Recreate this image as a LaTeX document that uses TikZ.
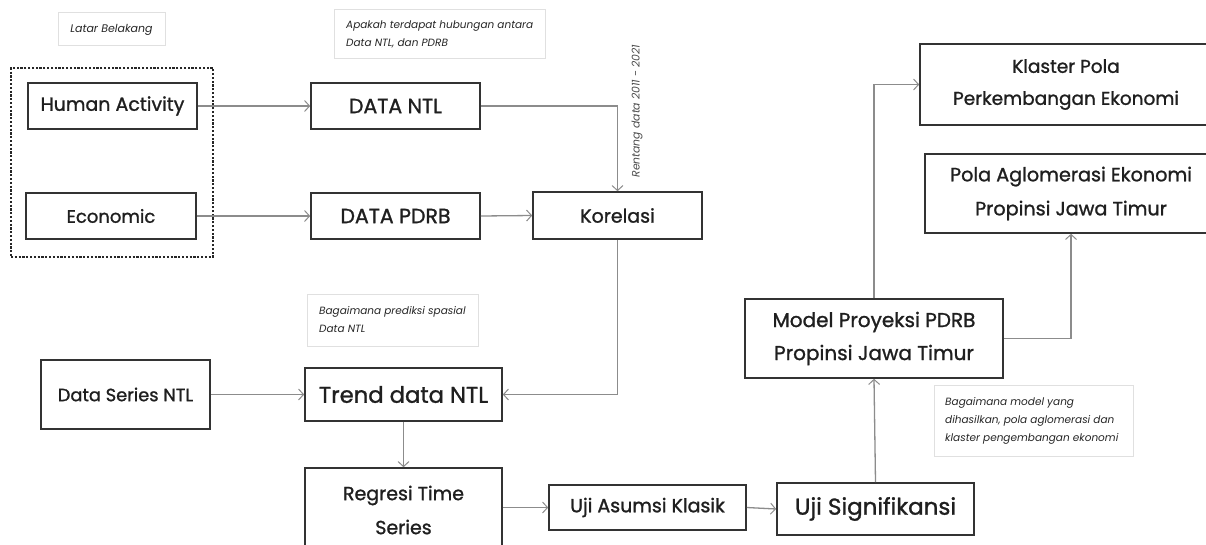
\documentclass[tikz,border=0pt]{standalone}
\usepackage{fontspec}
\setmainfont{Poppins}
\newfontfamily\boxfont{Poppins}[FakeBold=1.2]
\usetikzlibrary{arrows.meta}
\tikzset{
  box/.style={draw=black!80, line width=1.6pt, inner sep=0pt, align=center, text=black!88},
  note/.style={draw=black!12, line width=0.6pt, inner sep=0pt},
  notetext/.style={inner sep=0pt, align=left, font=\itshape\fontsize{10.5}{18}\selectfont, text=black!85},
  arr/.style={draw=black!45, line width=1.3pt, -{Straight Barb[length=5pt,width=11pt,line width=1pt]}},
  txt/.style={inner sep=0pt, align=center, text=black!88},
}
\newcommand{\fs}[2]{\boxfont\fontsize{#1}{#2}\selectfont}
\begin{document}
\begin{tikzpicture}[x=1pt,y=-1pt]
\useasboundingbox (0,0) rectangle (1206,544);
\clip (0,0) rectangle (1206,544);
\fill[white] (0,0) rectangle (1206,544);
% notes
\node[note, minimum width=107pt, minimum height=33pt] (lb) at (111.5,28.5) {};
\node[notetext, font=\itshape\fontsize{11}{18}\selectfont] (lbt) at (111.5,29.5) {Latar Belakang};
\node[note, minimum width=211pt, minimum height=49pt] (q1) at (439.5,33.5) {};
\node[notetext, anchor=west] (q1t) at (346,34) {Apakah terdapat hubungan antara\\Data NTL, dan PDRB};
\node[note, minimum width=171pt, minimum height=52pt] (q2) at (392.5,320) {};
\node[notetext, anchor=west] (q2t) at (319,320) {Bagaimana prediksi spasial\\Data NTL};
\node[note, minimum width=199pt, minimum height=71pt] (q3) at (1033.5,420.5) {};
\node[notetext, anchor=west] (q3t) at (945,420.5) {Bagaimana model yang\\dihasilkan, pola aglomerasi dan\\klaster pengembangan ekonomi};
\node[notetext, rotate=90, font=\itshape\fontsize{10.8}{12}\selectfont, text=black!70] (rt) at (637,111) {Rentang data 2011 - 2021};
% dashed group
\node[draw=black!85, line width=1.3pt, dash pattern=on 2.2pt off 1.6pt, minimum width=202pt, minimum height=189pt, inner sep=0pt] (grp) at (112,162.5) {};
% boxes
\node[box, minimum width=169pt, minimum height=46pt, font=\fs{19}{30}] (ha) at (112.5,106) {Human Activity};
\node[box, minimum width=170pt, minimum height=46pt, font=\fs{18}{30}] (eco) at (111,216) {Economic};
\node[box, minimum width=169pt, minimum height=46pt, font=\fs{20.5}{30}] (ntl) at (395.5,106) {DATA NTL};
\node[box, minimum width=169pt, minimum height=46pt, font=\fs{20.5}{30}] (pdrb) at (395.5,216) {DATA PDRB};
\node[box, minimum width=169pt, minimum height=47pt, font=\fs{19}{30}] (kor) at (617.5,215.5) {Korelasi};
\node[box, minimum width=169pt, minimum height=69pt, font=\fs{17.8}{30}] (dsn) at (125.5,394.5) {Data Series NTL};
\node[box, minimum width=197pt, minimum height=53pt, font=\fs{22.7}{30}] (trend) at (403.5,394.5) {Trend data NTL};
\node[box, minimum width=197pt, minimum height=92pt] (reg) at (403.5,514) {};
\node[txt, font=\fs{19}{34}] (regt) at (403.5,510) {Regresi Time\\Series};
\node[box, minimum width=197pt, minimum height=45pt, font=\fs{19}{30}] (uak) at (647.5,507.5) {Uji Asumsi Klasik};
\node[box, minimum width=197pt, minimum height=52pt, font=\fs{23}{30}] (usig) at (875.5,509) {Uji Signifikansi};
\node[box, minimum width=258pt, minimum height=79pt, font=\fs{20}{33}] (model) at (874,338.5) {Model Proyeksi PDRB\\Propinsi Jawa Timur};
\node[box, minimum width=292pt, minimum height=81pt, font=\fs{18.5}{32}] (kl) at (1066,84.5) {Klaster Pola\\Perkembangan Ekonomi};
\node[box, minimum width=292pt, minimum height=79pt, font=\fs{19.2}{34}] (pola) at (1071,193.5) {Pola Aglomerasi Ekonomi\\Propinsi Jawa Timur};
% connectors
\draw[arr] (ha.east) -- (ntl.west);
\draw[arr] (eco.east) -- (pdrb.west);
\draw[arr] (pdrb.east) -- (kor.west);
\draw[arr] (ntl.east) -| (kor.north);
\draw[arr] (kor.south) |- (trend.east);
\draw[arr] (dsn.east) -- (trend.west);
\draw[arr] (trend.south) -- (reg.north);
\draw[arr] (reg.east |- uak.west) -- (uak.west);
\draw[arr] (uak.east) -- (usig.west);
\draw[arr] (usig.north) -- (model.south);
\draw[arr] (model.north) |- (kl.west);
\draw[arr] (model.east) -| (pola.south);
\end{tikzpicture}
\end{document}
